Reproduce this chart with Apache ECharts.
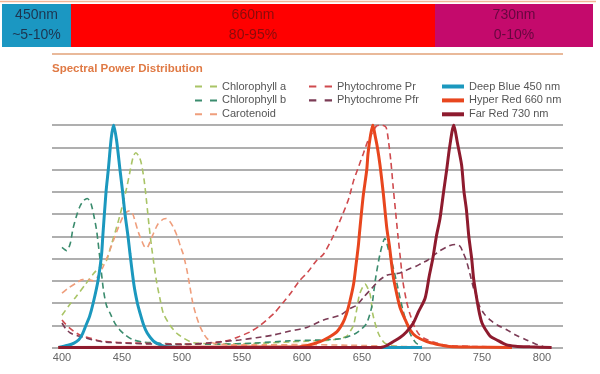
<!DOCTYPE html>
<html>
<head>
<meta charset="utf-8">
<script src="https://cdn.jsdelivr.net/npm/echarts@6/dist/echarts.min.js"></script>
<style>
html,body{margin:0;padding:0;background:#fff;}
#c{width:600px;height:374px;}
</style>
</head>
<body>
<div id="c"></div>
<script>
// Header band
const bandLabels = ['450nm', '660nm', '730nm'];
const bandShares = ['~5-10%', '80-95%', '0-10%'];

// Axis tick labels
const xTicks = [400, 450, 500, 550, 600, 650, 700, 750, 800];

// Series names
const seriesNames = ['Chlorophyll a', 'Chlorophyll b', 'Carotenoid', 'Phytochrome Pr', 'Phytochrome Pfr',
  'Deep Blue 450 nm', 'Hyper Red 660 nm', 'Far Red 730 nm'];

// [wavelength nm, relative %]
const chlorophyllA = [[400,14.5],[406,19],[412,23],[419,28],[426,33],[432,36.5],[437,39],[441,46],[445.5,54],[450,63],[454,72],[457,80],[459.5,86],[461.5,87.5],[464,86],[466,83],[468.5,75],[470.6,65],[472.5,55],[474.7,45],[477,36],[479,29],[482,21],[484.4,15.4],[490,10],[495.6,6.4],[502,4],[509,2.2],[530,1.6],[560,1.8],[590,2.5],[610,3],[626,3.5],[637,5],[641,8],[643,10],[645.6,17],[648,24],[652.5,28.5],[656.7,24],[659,15],[663.6,6.4],[669,2],[680,0.5],[700,0.2]];
const chlorophyllB = [[400,45],[404,43.5],[407,47],[409,53],[412,59],[415,63.5],[418,66],[421,67],[424,65],[427,58],[429,52],[432,38],[434.5,26],[437,19],[440,15.5],[444,11],[448,8],[453,5.5],[459,3.5],[467,2.5],[480,2],[500,1.5],[530,1.5],[560,2],[590,3],[615,3.4],[633,4],[645,6.4],[650,8.5],[654,11],[658,18],[661,30],[665,42],[669,49],[673,42],[676,36],[679,29],[684,17],[690,6.4],[695,2],[700,0.8]];
const carotenoid = [[400,24.4],[406,27],[412,29],[417,30.5],[422,30.5],[426,30],[430,32],[434,36],[438,41],[442.8,48],[447,54],[451,59],[454,61],[456.7,61.5],[459,60],[460.8,57],[463.5,52],[466.4,48],[468.5,45.5],[470.6,44.6],[473,47],[476,51],[480,55.5],[484.4,57.7],[487,58],[490,56.5],[492.8,54],[496,50],[499,45],[501,42],[504,35],[506.7,27],[509,20],[512,14],[515,9.5],[517.8,6.4],[521,4],[526,2],[540,1.2],[570,1.2],[600,1.3],[640,1],[680,0.5],[700,0.3]];
const phytochromePr = [[400,12.4],[403,10.5],[406.7,8.6],[412,6.5],[417.8,5],[425,4],[431,3],[445,2.3],[459,2],[480,1.7],[501,1.5],[524,2],[540,3.4],[548,5],[556.7,7],[564,9.5],[570.6,12.4],[577,15.5],[584,20],[590,24],[598,30],[605,34],[612,39],[618,42],[626,50],[634,60],[639,67],[643,75],[647,81],[651,87],[655,93],[658,96],[662,99.5],[666,100],[670,99],[672,93],[674,84],[676,72],[678,61],[680,50],[682,40],[684,30],[687,21],[690,15],[694,9],[698,5.6],[703,3.8],[709,2.6],[720,1],[740,0.5],[760,0.3]];
const phytochromePfr = [[400,11],[403,8.5],[407,6.5],[412,5.4],[418,4.6],[425,3.5],[435,2.5],[450,2],[480,1.5],[500,1.3],[521,2],[535,2.7],[548,3.4],[562,4.4],[576,5.6],[590,7.4],[604,9],[618,12.4],[631.7,14.5],[640,17.5],[645.6,19],[652,23],[658,26.5],[664,30],[670.6,32.5],[676,33],[681.7,33.5],[686,34.5],[690,35.5],[695,36.5],[700,38],[704,39],[710,41.5],[715,43.5],[720,45],[724,46],[728,46.3],[731.7,45.5],[734,43],[737,39],[740,33],[742.8,27],[745.6,23],[748,18.5],[752,15],[756.7,12.4],[763,10],[770.6,8],[778,5.6],[787,3.4],[795,1.5],[801,0.4]];
const deepBlue = [[397,0],[400,0.4],[405,1],[410,2],[414,3.5],[417,6],[420,10],[423,14],[426,20],[430,30],[433,42],[434,50],[436.7,70],[438.6,80],[441,94],[443,100],[445.5,93],[448.3,80],[450.5,70],[452.5,60],[455,50],[456.7,42],[460,28],[462.8,20],[465,15.5],[467.8,10.5],[471,6.5],[476,3],[480,1.6],[485,0.6],[492,0.2],[500,0],[700,0]];
const hyperRed = [[397,0],[598,0.3],[604,0.8],[615,2.6],[622,4.5],[629,7],[634,11],[637,15],[640,21],[643,28.5],[645,37],[647,46],[648,52],[651,68],[654,80],[655,87],[657,95],[659,100],[661,95],[662.8,90],[665,82],[667.8,69],[670.6,54],[673,45],[676,32],[679,24],[681.7,18],[686,12.5],[690,8],[695,5],[704,2.6],[712,1.5],[723,0.5],[740,0.2],[775,0]];
const farRed = [[397,0],[666,0],[671,1],[676,2.6],[681.7,4.5],[687,7],[692.8,11],[697,16],[702.5,22],[706,32],[709,40],[712,50],[715,58],[718,70],[720.6,80],[723,90],[726.5,100],[729.5,92],[733,82],[735,70],[737,62],[739,50],[741.4,40],[743,31],[745.6,22],[748,15],[750,11],[753,8],[757,5],[762,3.5],[770,1.3],[778,0.6],[790,0.3],[808,0]];

const colors = {
  'Chlorophyll a': '#a9c466',
  'Chlorophyll b': '#3b8c6e',
  'Carotenoid': '#ef9e7c',
  'Phytochrome Pr': '#cf4a4e',
  'Phytochrome Pfr': '#7b3b55',
  'Deep Blue 450 nm': '#1b98be',
  'Hyper Red 660 nm': '#e8461e',
  'Far Red 730 nm': '#8e1b2e'
};
const dataMap = {
  'Chlorophyll a': chlorophyllA,
  'Chlorophyll b': chlorophyllB,
  'Carotenoid': carotenoid,
  'Phytochrome Pr': phytochromePr,
  'Phytochrome Pfr': phytochromePfr,
  'Deep Blue 450 nm': deepBlue,
  'Hyper Red 660 nm': hyperRed,
  'Far Red 730 nm': farRed
};
const solidNames = ['Deep Blue 450 nm', 'Hyper Red 660 nm', 'Far Red 730 nm'];

const chart = echarts.init(document.getElementById('c'), null, {renderer: 'canvas'});

const series = seriesNames.map(function (n, i) {
  const solid = solidNames.indexOf(n) >= 0;
  return {
    name: n,
    type: 'line',
    data: dataMap[n],
    smooth: 0.25,
    symbol: 'none',
    z: solid ? 3 + i : 2,
    lineStyle: {
      color: colors[n],
      width: solid ? 3 : 1.6,
      type: solid ? 'solid' : [6, 4]
    },
    itemStyle: {color: colors[n]},
    emphasis: {disabled: true},
    silent: true
  };
});

const DASH_ICON = 'path://M0,0h7v2h-7zM15,0h7v2h-7z';
const SOLID_ICON = 'path://M0,0h22v4h-22z';
const legendText = {color: '#555', fontSize: 11, fontFamily: 'Liberation Sans, Arial, sans-serif', lineHeight: 11};
function mkLegend(left, names, dashed, w) {
  return {
    orient: 'vertical',
    left: left,
    top: 81,
    data: names,
    icon: dashed ? DASH_ICON : SOLID_ICON,
    itemWidth: w,
    itemHeight: 8,
    itemGap: 2.9,
    padding: 0,
    textStyle: legendText,
    selectedMode: false
  };
}

const bandBoxes = [
  {x: 2, w: 69, fill: '#1b97c2', text: '#1d3550'},
  {x: 71, w: 364, fill: '#ff0000', text: '#8a0b0b'},
  {x: 435, w: 158, fill: '#c40a6c', text: '#66073f'}
];
const graphics = [];
graphics.push({type: 'line', shape: {x1: 0, y1: 1.5, x2: 596, y2: 1.5}, style: {stroke: '#f1b596', lineWidth: 1.5}});
bandBoxes.forEach(function (b, i) {
  graphics.push({type: 'rect', shape: {x: b.x, y: 4, width: b.w, height: 43}, style: {fill: b.fill}});
  graphics.push({type: 'text', x: b.x + b.w / 2, y: 15, style: {text: bandLabels[i], fill: b.text, font: '14px Liberation Sans, Arial, sans-serif', textAlign: 'center', textVerticalAlign: 'middle'}});
  graphics.push({type: 'text', x: b.x + b.w / 2, y: 35, style: {text: bandShares[i], fill: b.text, font: '14px Liberation Sans, Arial, sans-serif', textAlign: 'center', textVerticalAlign: 'middle'}});
});
graphics.push({type: 'line', shape: {x1: 52, y1: 54, x2: 563, y2: 54}, style: {stroke: '#e9b99a', lineWidth: 2}});
graphics.push({type: 'text', x: 52, y: 69, style: {text: 'Spectral Power Distribution', fill: '#e07a45', font: 'bold 11.5px Liberation Sans, Arial, sans-serif', textVerticalAlign: 'middle'}});

chart.setOption({
  animation: false,
  backgroundColor: '#fff',
  graphic: graphics,
  legend: [
    mkLegend(195, ['Chlorophyll a', 'Chlorophyll b', 'Carotenoid'], true, 22),
    mkLegend(309, ['Phytochrome Pr', 'Phytochrome Pfr'], true, 23),
    mkLegend(442, ['Deep Blue 450 nm', 'Hyper Red 660 nm', 'Far Red 730 nm'], false, 22)
  ],
  grid: {left: 52, right: 37, top: 125, bottom: 26.5, containLabel: false},
  xAxis: {
    type: 'value',
    min: 391.67,
    max: 817.5,
    axisLine: {show: false},
    axisTick: {show: false},
    splitLine: {show: false},
    axisLabel: {
      customValues: xTicks,
      color: '#666',
      fontSize: 11,
      margin: 5,
      fontFamily: 'Liberation Sans, Arial, sans-serif'
    }
  },
  yAxis: {
    type: 'value',
    min: 0,
    max: 100,
    interval: 10,
    axisLine: {show: false},
    axisTick: {show: false},
    axisLabel: {show: false},
    splitLine: {lineStyle: {color: '#959595', width: 1.5}}
  },
  series: series
});
</script>
</body>
</html>
